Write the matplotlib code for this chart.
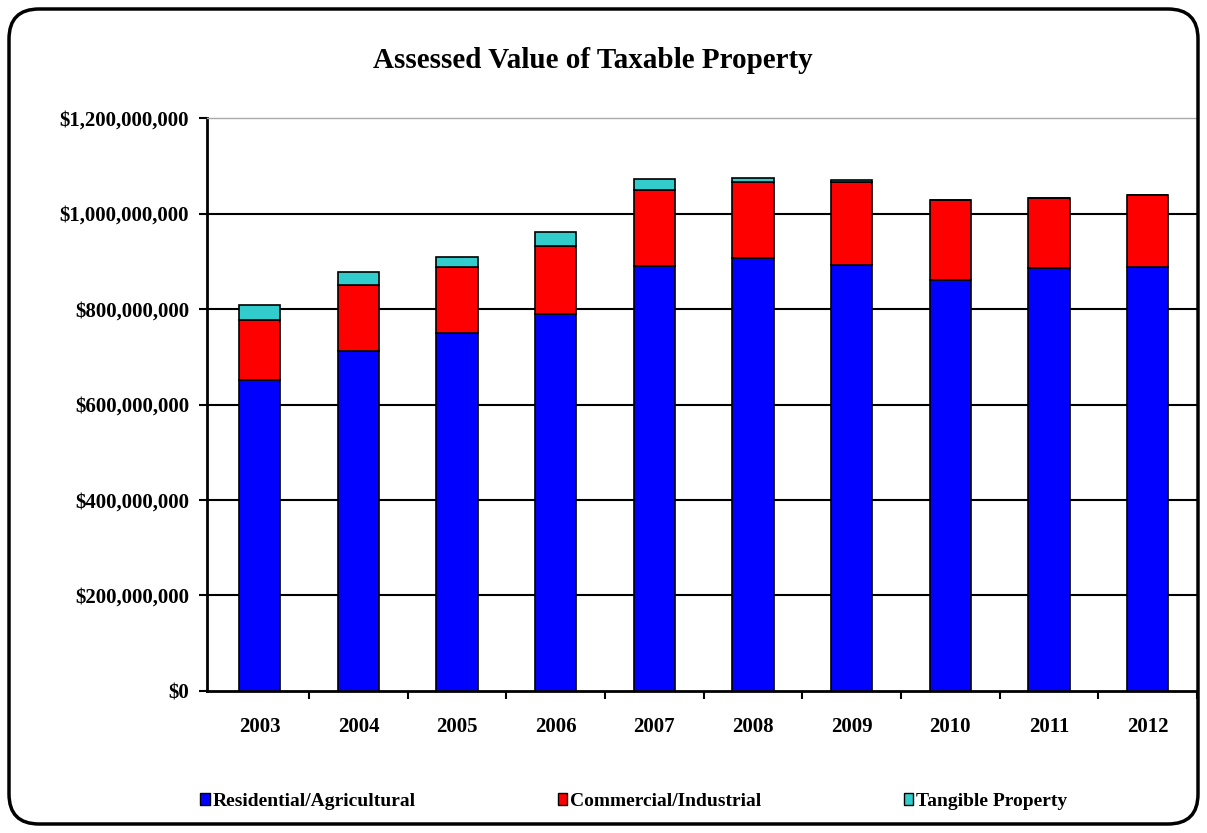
import matplotlib
matplotlib.use("Agg")
import matplotlib.pyplot as plt
from matplotlib.patches import FancyBboxPatch, Patch
from matplotlib.ticker import FuncFormatter, FixedLocator
import numpy as np

years = ["2003", "2004", "2005", "2006", "2007", "2008", "2009", "2010", "2011", "2012"]
residential = [651, 713, 750, 790, 891, 906, 893, 860, 885, 889]   # $ millions
commercial = [127, 137, 138, 141, 158, 161, 174, 168, 148, 150]
tangible = [30, 28, 20, 30, 23, 8, 3, 0, 0, 0]
series_names = ["Residential/Agricultural", "Commercial/Industrial", "Tangible Property"]
colors = ["#0000FF", "#FF0000", "#33CCCC"]

plt.rcParams['font.family'] = ['Liberation Serif', 'DejaVu Serif']
plt.rcParams['font.weight'] = 'bold'

fig = plt.figure(figsize=(12.07, 8.33), dpi=100)
ax = fig.add_axes([0.1715, 0.1705, 0.8202, 0.6878])

x = np.arange(len(years))
res = np.array(residential) * 1e6
com = np.array(commercial) * 1e6
tan = np.array(tangible) * 1e6
w = 0.42
ax.bar(x, res, w, color=colors[0], edgecolor='black', linewidth=1.2, zorder=3)
ax.bar(x, com, w, bottom=res, color=colors[1], edgecolor='black', linewidth=1.2, zorder=3)
ax.bar(x, tan, w, bottom=res + com, color=colors[2], edgecolor='black', linewidth=1.2, zorder=3)

ax.set_xlim(-0.535, len(years) - 0.5)
ax.set_ylim(0, 1.2e9)
ax.set_yticks(np.arange(0, 1.2e9 + 1, 2e8))
ax.yaxis.set_major_formatter(FuncFormatter(lambda v, p: "${:,.0f}".format(v)))
for yv in np.arange(2e8, 1.2e9, 2e8):
    ax.axhline(yv, color='black', linewidth=1.5, zorder=1)

ax.set_xticks(x)
ax.set_xticklabels(years)
ax.xaxis.set_minor_locator(FixedLocator(np.arange(0.5, len(years), 1.0)))
ax.tick_params(axis='x', which='major', length=0, pad=19, labelsize=15)
ax.tick_params(axis='x', which='minor', length=6, width=1.5, direction='out')
ax.tick_params(axis='y', length=6, width=1.5, direction='out', pad=7, labelsize=15)
for lab in ax.get_xticklabels() + ax.get_yticklabels():
    lab.set_fontweight('bold')

ax.spines['left'].set_linewidth(2)
ax.spines['bottom'].set_linewidth(2)
ax.spines['top'].set_color('#aaaaaa')
ax.spines['top'].set_linewidth(1)
ax.spines['right'].set_visible(False)

fig.text(0.4915, 0.927, "Assessed Value of Taxable Property", ha='center', va='center',
         fontsize=21, fontweight='bold')

handles = [Patch(facecolor=c, edgecolor='black', linewidth=1) for c in colors]
leg = fig.legend(handles, series_names, loc='center', bbox_to_anchor=(0.525, 0.038), ncol=3,
                 frameon=False, fontsize=14, handlelength=0.5, handleheight=0.55,
                 handletextpad=0.15, columnspacing=7.3)
for t in leg.get_texts():
    t.set_fontweight('bold')

box = FancyBboxPatch((0.09, 0.09), 12.07 - 0.18, 8.33 - 0.18,
                     boxstyle="round,pad=0,rounding_size=0.3",
                     transform=fig.dpi_scale_trans, fill=False, edgecolor='black',
                     linewidth=2.5)
fig.patches.append(box)

fig.savefig("out.png", dpi=100)
